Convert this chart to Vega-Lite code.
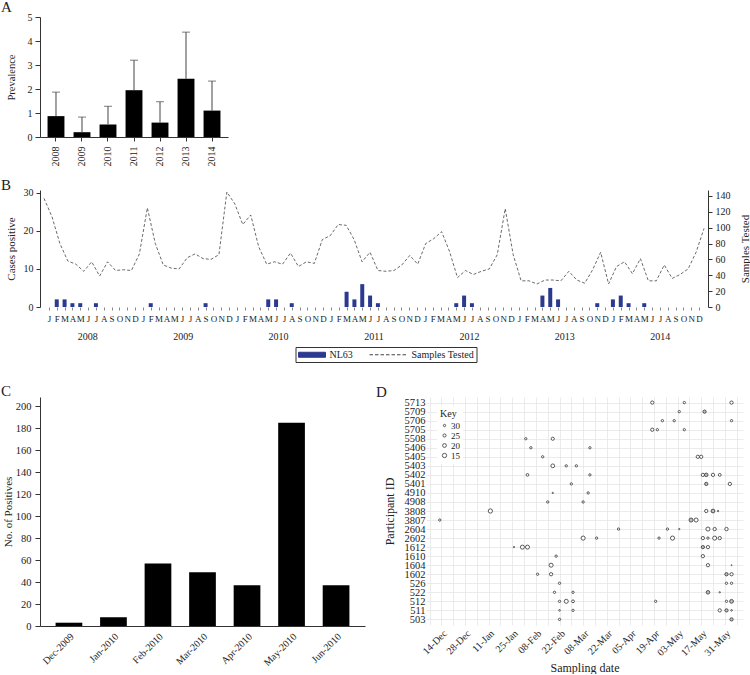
{
  "$schema": "https://vega.github.io/schema/vega-lite/v6.json",
  "padding": {"left": 1, "top": 0, "right": 0, "bottom": 0},
  "background": "white",
  "config": {
    "font": "Liberation Serif",
    "view": {"stroke": null},
    "axis": {"labelFont": "Liberation Serif", "titleFont": "Liberation Serif", "labelColor": "#222", "titleColor": "#222", "titleFontWeight": "normal", "domainColor": "#333", "tickColor": "#333", "grid": false, "labelFontSize": 10, "titleFontSize": 11},
    "title": {"font": "Liberation Serif", "fontSize": 15, "fontWeight": "normal", "color": "#222", "anchor": "start", "frame": "group"},
    "legend": {"labelFont": "Liberation Serif", "titleFont": "Liberation Serif", "labelColor": "#222", "titleColor": "#222", "titleFontWeight": "normal"}
  },
  "datasets": {
    "prev": [
      {"year": "2008", "prevalence": 0.87, "upper": 1.87},
      {"year": "2009", "prevalence": 0.2, "upper": 0.83},
      {"year": "2010", "prevalence": 0.52, "upper": 1.28},
      {"year": "2011", "prevalence": 1.95, "upper": 3.2},
      {"year": "2012", "prevalence": 0.6, "upper": 1.47},
      {"year": "2013", "prevalence": 2.43, "upper": 4.37},
      {"year": "2014", "prevalence": 1.1, "upper": 2.33}
    ],
    "monthly": [
      {"t":1,"cases":0,"samples":137},{"t":2,"cases":2,"samples":114},{"t":3,"cases":2,"samples":80},{"t":4,"cases":1,"samples":58},{"t":5,"cases":1,"samples":54},{"t":6,"cases":0,"samples":45},{"t":7,"cases":1,"samples":57},{"t":8,"cases":0,"samples":39},{"t":9,"cases":0,"samples":57},{"t":10,"cases":0,"samples":46},{"t":11,"cases":0,"samples":47},{"t":12,"cases":0,"samples":46},
      {"t":13,"cases":0,"samples":67},{"t":14,"cases":1,"samples":125},{"t":15,"cases":0,"samples":80},{"t":16,"cases":0,"samples":53},{"t":17,"cases":0,"samples":49},{"t":18,"cases":0,"samples":48},{"t":19,"cases":0,"samples":62},{"t":20,"cases":0,"samples":67},{"t":21,"cases":1,"samples":61},{"t":22,"cases":0,"samples":60},{"t":23,"cases":0,"samples":66},{"t":24,"cases":0,"samples":145},
      {"t":25,"cases":0,"samples":130},{"t":26,"cases":0,"samples":104},{"t":27,"cases":0,"samples":116},{"t":28,"cases":0,"samples":76},{"t":29,"cases":2,"samples":54},{"t":30,"cases":2,"samples":57},{"t":31,"cases":0,"samples":54},{"t":32,"cases":1,"samples":68},{"t":33,"cases":0,"samples":51},{"t":34,"cases":0,"samples":57},{"t":35,"cases":0,"samples":55},{"t":36,"cases":0,"samples":85},
      {"t":37,"cases":0,"samples":90},{"t":38,"cases":0,"samples":104},{"t":39,"cases":4,"samples":103},{"t":40,"cases":2,"samples":85},{"t":41,"cases":6,"samples":57},{"t":42,"cases":3,"samples":69},{"t":43,"cases":1,"samples":46},{"t":44,"cases":0,"samples":45},{"t":45,"cases":0,"samples":46},{"t":46,"cases":0,"samples":53},{"t":47,"cases":0,"samples":65},{"t":48,"cases":0,"samples":54},
      {"t":49,"cases":0,"samples":80},{"t":50,"cases":0,"samples":86},{"t":51,"cases":0,"samples":95},{"t":52,"cases":0,"samples":70},{"t":53,"cases":1,"samples":37},{"t":54,"cases":3,"samples":46},{"t":55,"cases":1,"samples":41},{"t":56,"cases":0,"samples":45},{"t":57,"cases":0,"samples":48},{"t":58,"cases":0,"samples":66},{"t":59,"cases":0,"samples":124},{"t":60,"cases":0,"samples":66},
      {"t":61,"cases":0,"samples":33},{"t":62,"cases":0,"samples":33},{"t":63,"cases":0,"samples":29},{"t":64,"cases":3,"samples":34},{"t":65,"cases":5,"samples":34},{"t":66,"cases":2,"samples":33},{"t":67,"cases":0,"samples":45},{"t":68,"cases":0,"samples":34},{"t":69,"cases":0,"samples":30},{"t":70,"cases":0,"samples":47},{"t":71,"cases":1,"samples":69},{"t":72,"cases":0,"samples":29},
      {"t":73,"cases":2,"samples":51},{"t":74,"cases":3,"samples":57},{"t":75,"cases":1,"samples":42},{"t":76,"cases":0,"samples":61},{"t":77,"cases":1,"samples":33},{"t":78,"cases":0,"samples":33},{"t":79,"cases":0,"samples":53},{"t":80,"cases":0,"samples":36},{"t":81,"cases":0,"samples":41},{"t":82,"cases":0,"samples":48},{"t":83,"cases":0,"samples":69},{"t":84,"cases":0,"samples":99}
    ],
    "years": [{"year":"2008"},{"year":"2009"},{"year":"2010"},{"year":"2011"},{"year":"2012"},{"year":"2013"},{"year":"2014"}],
    "positives": [
      {"month":"Dec-2009","n":3},{"month":"Jan-2010","n":8},{"month":"Feb-2010","n":57},{"month":"Mar-2010","n":49},{"month":"Apr-2010","n":37},{"month":"May-2010","n":185},{"month":"Jun-2010","n":37}
    ],
    "ct": [
      {"id":"5713","date":"2010-04-18","ct":24,"type":"open"},{"id":"5713","date":"2010-05-07","ct":30,"type":"open"},{"id":"5713","date":"2010-06-04","ct":24,"type":"open"},
      {"id":"5709","date":"2010-05-04","ct":30,"type":"open"},{"id":"5709","date":"2010-05-19","ct":24,"type":"filled"},
      {"id":"5706","date":"2010-04-24","ct":30,"type":"open"},{"id":"5706","date":"2010-05-01","ct":30,"type":"open"},{"id":"5706","date":"2010-06-04","ct":30,"type":"open"},
      {"id":"5705","date":"2010-04-18","ct":24,"type":"open"},{"id":"5705","date":"2010-04-21","ct":30,"type":"open"},{"id":"5705","date":"2010-05-07","ct":30,"type":"open"},
      {"id":"5508","date":"2010-02-02","ct":30,"type":"open"},{"id":"5508","date":"2010-02-18","ct":25,"type":"open"},
      {"id":"5406","date":"2010-02-05","ct":30,"type":"open"},{"id":"5406","date":"2010-03-12","ct":30,"type":"open"},
      {"id":"5405","date":"2010-02-12","ct":30,"type":"open"},{"id":"5405","date":"2010-05-15","ct":24,"type":"open"},{"id":"5405","date":"2010-05-17","ct":24,"type":"open"},
      {"id":"5403","date":"2010-02-18","ct":20,"type":"open"},{"id":"5403","date":"2010-02-26","ct":30,"type":"open"},{"id":"5403","date":"2010-03-04","ct":30,"type":"open"},
      {"id":"5402","date":"2010-02-03","ct":28,"type":"open"},{"id":"5402","date":"2010-03-12","ct":30,"type":"open"},{"id":"5402","date":"2010-05-18","ct":24,"type":"open"},{"id":"5402","date":"2010-05-20","ct":22,"type":"filled"},{"id":"5402","date":"2010-05-24","ct":24,"type":"open"},{"id":"5402","date":"2010-05-28","ct":27,"type":"open"},
      {"id":"5401","date":"2010-03-01","ct":30,"type":"open"},{"id":"5401","date":"2010-05-20","ct":24,"type":"filled"},{"id":"5401","date":"2010-06-03","ct":24,"type":"open"},
      {"id":"4910","date":"2010-02-18","ct":34,"type":"open"},{"id":"4910","date":"2010-03-11","ct":30,"type":"open"},
      {"id":"4908","date":"2010-02-15","ct":30,"type":"open"},{"id":"4908","date":"2010-03-08","ct":30,"type":"open"},
      {"id":"3808","date":"2010-01-12","ct":16,"type":"open"},{"id":"3808","date":"2010-05-20","ct":24,"type":"open"},{"id":"3808","date":"2010-05-24","ct":20,"type":"filled"},{"id":"3808","date":"2010-05-27","ct":34,"type":"open"},
      {"id":"3807","date":"2009-12-13","ct":30,"type":"open"},{"id":"3807","date":"2010-05-11","ct":18,"type":"filled"},{"id":"3807","date":"2010-05-14","ct":18,"type":"open"},
      {"id":"2604","date":"2010-03-29","ct":30,"type":"open"},{"id":"2604","date":"2010-04-27","ct":30,"type":"open"},{"id":"2604","date":"2010-05-04","ct":34,"type":"open"},{"id":"2604","date":"2010-05-21","ct":18,"type":"open"},{"id":"2604","date":"2010-05-25","ct":24,"type":"open"},{"id":"2604","date":"2010-06-01","ct":23,"type":"open"},
      {"id":"2602","date":"2010-03-08","ct":17,"type":"open"},{"id":"2602","date":"2010-03-16","ct":30,"type":"open"},{"id":"2602","date":"2010-04-22","ct":30,"type":"open"},{"id":"2602","date":"2010-04-30","ct":17,"type":"open"},{"id":"2602","date":"2010-05-18","ct":24,"type":"open"},{"id":"2602","date":"2010-05-21","ct":30,"type":"open"},{"id":"2602","date":"2010-05-25","ct":18,"type":"open"},{"id":"2602","date":"2010-05-28","ct":24,"type":"open"},
      {"id":"1612","date":"2010-01-26","ct":34,"type":"open"},{"id":"1612","date":"2010-01-31","ct":18,"type":"open"},{"id":"1612","date":"2010-02-03","ct":18,"type":"open"},{"id":"1612","date":"2010-05-18","ct":24,"type":"filled"},{"id":"1612","date":"2010-05-21","ct":24,"type":"open"},
      {"id":"1610","date":"2010-02-20","ct":30,"type":"open"},{"id":"1610","date":"2010-05-18","ct":24,"type":"open"},
      {"id":"1604","date":"2010-02-17","ct":18,"type":"open"},{"id":"1604","date":"2010-05-21","ct":24,"type":"open"},{"id":"1604","date":"2010-06-04","ct":35,"type":"open"},
      {"id":"1602","date":"2010-02-09","ct":30,"type":"open"},{"id":"1602","date":"2010-02-17","ct":24,"type":"open"},{"id":"1602","date":"2010-06-01","ct":24,"type":"filled"},{"id":"1602","date":"2010-06-04","ct":24,"type":"open"},
      {"id":"526","date":"2010-02-22","ct":30,"type":"open"},{"id":"526","date":"2010-06-01","ct":30,"type":"open"},{"id":"526","date":"2010-06-04","ct":30,"type":"open"},
      {"id":"522","date":"2010-02-19","ct":30,"type":"open"},{"id":"522","date":"2010-03-02","ct":30,"type":"open"},{"id":"522","date":"2010-05-21","ct":22,"type":"filled"},{"id":"522","date":"2010-05-28","ct":34,"type":"open"},
      {"id":"512","date":"2010-02-22","ct":30,"type":"open"},{"id":"512","date":"2010-02-26","ct":18,"type":"open"},{"id":"512","date":"2010-03-02","ct":27,"type":"open"},{"id":"512","date":"2010-04-20","ct":30,"type":"open"},{"id":"512","date":"2010-06-01","ct":30,"type":"open"},{"id":"512","date":"2010-06-04","ct":20,"type":"filled"},
      {"id":"511","date":"2010-02-22","ct":33,"type":"open"},{"id":"511","date":"2010-03-02","ct":30,"type":"open"},{"id":"511","date":"2010-05-28","ct":24,"type":"open"},{"id":"511","date":"2010-06-01","ct":24,"type":"filled"},{"id":"511","date":"2010-06-04","ct":33,"type":"open"},
      {"id":"503","date":"2010-02-22","ct":30,"type":"open"},{"id":"503","date":"2010-06-04","ct":24,"type":"filled"}
    ]
  },
  "spacing": 21,
  "resolve": {"scale": {"color": "independent", "size": "independent", "fill": "independent"}, "legend": {"color": "independent", "size": "independent", "fill": "independent"}},
  "vconcat": [
    {
      "bounds": "flush",
      "spacing": 53,
      "resolve": {"scale": {"color": "independent", "size": "independent", "fill": "independent"}, "legend": {"color": "independent", "size": "independent", "fill": "independent"}},
      "vconcat": [
        {
          "title": {"text": "A", "dx": -39, "offset": -15, "baseline": "alphabetic"},
          "width": 188,
          "height": 120,
          "data": {"name": "prev"},
          "encoding": {
            "x": {"field": "year", "type": "ordinal", "scale": {"paddingInner": 0.35, "paddingOuter": 0.29}, "axis": {"title": null, "labelAngle": -90, "tickSize": 4, "labelPadding": 5, "labelFontSize": 10}}
          },
          "layer": [
            {
              "mark": {"type": "bar", "color": "#000"},
              "encoding": {
                "y": {"field": "prevalence", "type": "quantitative", "scale": {"domain": [0, 5], "nice": false}, "axis": {"title": "Prevalence", "values": [0, 1, 2, 3, 4, 5], "tickSize": 5, "labelPadding": 3, "titlePadding": 11, "titleFontSize": 10.5, "labelOverlap": false}}
              }
            },
            {
              "mark": {"type": "rule", "color": "#444", "strokeWidth": 1},
              "encoding": {
                "y": {"field": "prevalence", "type": "quantitative", "axis": {"title": "Prevalence", "values": [0, 1, 2, 3, 4, 5], "tickSize": 5, "labelPadding": 3, "titlePadding": 11, "titleFontSize": 10.5, "labelOverlap": false}},
                "y2": {"field": "upper"}
              }
            },
            {
              "mark": {"type": "tick", "color": "#444", "size": 8, "thickness": 1},
              "encoding": {
                "y": {"field": "upper", "type": "quantitative", "axis": {"title": "Prevalence", "values": [0, 1, 2, 3, 4, 5], "tickSize": 5, "labelPadding": 3, "titlePadding": 11, "titleFontSize": 10.5, "labelOverlap": false}}
              }
            }
          ]
        },
        {
          "title": {"text": "B", "dx": -39, "offset": -17, "baseline": "alphabetic"},
          "width": 668,
          "height": 117,
          "layer": [
            {
              "data": {"name": "monthly"},
              "transform": [{"filter": "datum.cases > 0"}],
              "mark": {"type": "bar", "size": 4},
              "encoding": {
                "x": {"field": "t", "type": "quantitative", "scale": {"domain": [0.5, 84.5], "nice": false, "zero": false},
                  "axis": {"title": null, "values": [1,2,3,4,5,6,7,8,9,10,11,12,13,14,15,16,17,18,19,20,21,22,23,24,25,26,27,28,29,30,31,32,33,34,35,36,37,38,39,40,41,42,43,44,45,46,47,48,49,50,51,52,53,54,55,56,57,58,59,60,61,62,63,64,65,66,67,68,69,70,71,72,73,74,75,76,77,78,79,80,81,82,83,84],
                    "labelExpr": "['J','F','M','A','M','J','J','A','S','O','N','D'][(datum.value - 1) % 12]",
                    "domain": false, "tickSize": 3, "tickColor": "#888", "labelPadding": 4, "labelFontSize": 9, "labelOverlap": false, "labelBound": false, "labelFlush": false}},
                "y": {"field": "cases", "type": "quantitative", "scale": {"domain": [0, 30.7], "nice": false}, "axis": {"title": "Cases positive", "values": [0, 10, 20, 30], "tickSize": 4, "labelPadding": 3, "titlePadding": 7}},
                "color": {"datum": "NL63", "scale": {"domain": ["NL63", "Samples Tested"], "range": ["#2b3a8f", "#444444"]},
                  "legend": {"title": null, "orient": "none", "legendX": 255.5, "legendY": 157, "direction": "horizontal", "strokeColor": "#333", "padding": 2, "symbolSize": 100, "symbolOffset": 0, "labelOffset": 21, "columnPadding": 14, "labelFontSize": 10,
                    "encode": {"symbols": {"update": {
                      "shape": {"signal": "datum.value === 'NL63' ? 'M-0.9,-0.5H4.5V0.5H-0.9Z' : 'M-3.1,0H-2.4M-2,0H-1.3M-0.9,0H-0.2M0.2,0H0.9M1.3,0H2M2.4,0H3.1M3.5,0H4.2'"},
                      "fill": {"signal": "datum.value === 'NL63' ? '#2b3a8f' : 'transparent'"},
                      "stroke": {"signal": "datum.value === 'NL63' ? 'transparent' : '#444'"},
                      "strokeWidth": {"value": 1},
                      "size": {"value": 100},
                      "opacity": {"value": 1}
                    }}}}
                }
              }
            },
            {
              "data": {"name": "monthly"},
              "mark": {"type": "line", "strokeDash": [3, 2], "strokeWidth": 0.8},
              "encoding": {
                "x": {"field": "t", "type": "quantitative", "scale": {"domain": [0.5, 84.5], "nice": false, "zero": false}, "axis": null},
                "y": {"field": "samples", "type": "quantitative", "scale": {"domain": [0, 147.5], "nice": false}, "axis": {"orient": "right", "title": "Samples Tested", "values": [0, 20, 40, 60, 80, 100, 120, 140], "tickSize": 4, "labelPadding": 3, "titlePadding": 9, "titleAngle": -90, "titleBaseline": "top"}},
                "color": {"datum": "Samples Tested"}
              }
            },
            {
              "data": {"name": "years"},
              "mark": {"type": "point", "opacity": 0},
              "encoding": {
                "x": {"field": "year", "type": "ordinal", "scale": {"type": "band", "paddingInner": 0, "paddingOuter": 0}, "axis": {"title": null, "orient": "bottom", "domain": false, "ticks": false, "tickSize": 0, "labelPadding": 24, "labelAngle": 0, "labelFontSize": 10}}
              }
            }
          ],
          "resolve": {"scale": {"x": "independent", "y": "independent"}, "axis": {"x": "independent", "y": "independent"}}
        }
      ]
    },
    {
      "bounds": "flush",
      "spacing": 61,
      "resolve": {"scale": {"color": "independent", "size": "independent", "fill": "independent"}, "legend": {"color": "independent", "size": "independent", "fill": "independent"}},
      "hconcat": [
        {
          "title": {"text": "C", "dx": -39, "offset": -14, "baseline": "alphabetic"},
          "width": 325,
          "height": 229,
          "data": {"name": "positives"},
          "mark": {"type": "bar", "color": "#000"},
          "encoding": {
            "x": {"field": "month", "type": "ordinal", "sort": null, "scale": {"paddingInner": 0.4, "paddingOuter": 0.35}, "axis": {"title": null, "labelAngle": -45, "tickSize": 0, "labelPadding": 5, "labelFontSize": 10}},
            "y": {"field": "n", "type": "quantitative", "scale": {"domain": [0, 208.5], "nice": false}, "axis": {"title": "No. of Positives", "values": [0, 20, 40, 60, 80, 100, 120, 140, 160, 180, 200], "tickSize": 5, "labelPadding": 4, "titlePadding": 1.5, "labelFontSize": 10.5, "titleFontSize": 11}}
          }
        },
        {
          "title": {"text": "D", "dx": -50, "offset": -15, "baseline": "alphabetic"},
          "width": 317,
          "height": 228,
          "data": {"name": "ct"},
          "mark": {"type": "point", "shape": "circle", "filled": true, "stroke": "#333", "strokeWidth": 0.8, "opacity": 1},
          "encoding": {
            "x": {"field": "date", "type": "temporal", "scale": {"type": "utc", "domain": [{"year": 2009, "month": 12, "date": 4, "hours": 20, "utc": true}, {"year": 2010, "month": 6, "date": 10, "hours": 19, "utc": true}]},
              "axis": {"title": "Sampling date", "titleFontSize": 12, "titlePadding": 5, "grid": true, "gridColor": "#e6e6e6", "gridWidth": 0.8, "domain": false, "ticks": false, "labelAngle": -45, "labelFontSize": 10, "labelPadding": 3, "labelOverlap": false, "labelBound": false, "labelFlush": false,
                "values": [
                  {"year":2009,"month":12,"date":7,"utc":true},{"year":2009,"month":12,"date":14,"utc":true},{"year":2009,"month":12,"date":21,"utc":true},{"year":2009,"month":12,"date":28,"utc":true},
                  {"year":2010,"month":1,"date":4,"utc":true},{"year":2010,"month":1,"date":11,"utc":true},{"year":2010,"month":1,"date":18,"utc":true},{"year":2010,"month":1,"date":25,"utc":true},
                  {"year":2010,"month":2,"date":1,"utc":true},{"year":2010,"month":2,"date":8,"utc":true},{"year":2010,"month":2,"date":15,"utc":true},{"year":2010,"month":2,"date":22,"utc":true},
                  {"year":2010,"month":3,"date":1,"utc":true},{"year":2010,"month":3,"date":8,"utc":true},{"year":2010,"month":3,"date":15,"utc":true},{"year":2010,"month":3,"date":22,"utc":true},{"year":2010,"month":3,"date":29,"utc":true},
                  {"year":2010,"month":4,"date":5,"utc":true},{"year":2010,"month":4,"date":12,"utc":true},{"year":2010,"month":4,"date":19,"utc":true},{"year":2010,"month":4,"date":26,"utc":true},
                  {"year":2010,"month":5,"date":3,"utc":true},{"year":2010,"month":5,"date":10,"utc":true},{"year":2010,"month":5,"date":17,"utc":true},{"year":2010,"month":5,"date":24,"utc":true},{"year":2010,"month":5,"date":31,"utc":true},
                  {"year":2010,"month":6,"date":7,"utc":true}
                ],
                "labelExpr": "(round((datum.value - utc(2009, 11, 14)) / 86400000) % 14 === 0) ? utcFormat(datum.value, '%d-%b') : ''"}},
            "y": {"field": "id", "type": "ordinal", "scale": {"type": "point", "padding": 0.62, "domain": ["5713","5709","5706","5705","5508","5406","5405","5403","5402","5401","4910","4908","3808","3807","2604","2602","1612","1610","1604","1602","526","522","512","511","503"]},
              "axis": {"title": "Participant ID", "titleFontSize": 12, "titlePadding": 8, "grid": true, "gridColor": "#e6e6e6", "gridWidth": 0.8, "domain": false, "ticks": false, "labelPadding": 1, "labelFontSize": 10.5, "labelOverlap": false}},
            "size": {"field": "ct", "type": "quantitative", "scale": {"domain": [15, 34], "range": [19, 1.8]},
              "legend": {"title": "Key", "values": [30, 25, 20, 15], "orient": "none", "legendX": 11, "legendY": 9, "padding": 3, "fillColor": "white", "titleFontSize": 10, "labelFontSize": 9, "labelOffset": 2, "rowPadding": -2, "titlePadding": 2,
                "symbolFillColor": "white", "symbolStrokeColor": "#333", "symbolStrokeWidth": 0.8, "symbolOpacity": 1,
                "encode": {"symbols": {"update": {"fill": {"value": "white"}, "stroke": {"value": "#333"}, "strokeWidth": {"value": 0.8}, "opacity": {"value": 1}}}}}},
            "fill": {"field": "type", "type": "nominal", "scale": {"domain": ["open", "filled"], "range": ["white", "#bdbdbd"]}, "legend": null}
          }
        }
      ]
    }
  ]
}
